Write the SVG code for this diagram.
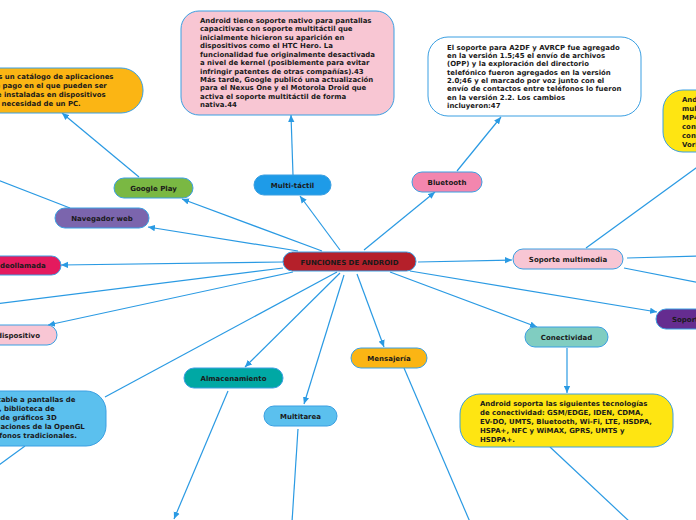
<svg xmlns="http://www.w3.org/2000/svg" width="696" height="520" viewBox="0 0 696 520">
<style>
.c{stroke:#2a9ae3;stroke-width:1.2;fill:none}
.a{marker-end:url(#ah)}
.n{stroke:#3a9fe2;stroke-width:1}
.t{font-family:"DejaVu Sans",Verdana,sans-serif;font-weight:bold;font-size:7px;fill:#1a1a1a;text-anchor:middle}
.b{font-family:"DejaVu Sans",Verdana,sans-serif;font-weight:bold;font-size:6.95px;fill:#1a1a1a}
</style>
<defs>
<marker id="ah" markerUnits="userSpaceOnUse" markerWidth="7" markerHeight="7" viewBox="0 0 10 10" refX="10" refY="5" orient="auto">
<path d="M0,0.5 L10,5 L0,9.5 z" fill="#2a9ae3"/>
</marker>
</defs>
<rect width="696" height="520" fill="#ffffff"/>
<g id="connectors">
<line class="c a" x1="340" y1="250" x2="300" y2="196"/>
<line class="c a" x1="293" y1="175" x2="291" y2="115"/>
<line class="c a" x1="364" y1="250" x2="435" y2="192"/>
<line class="c a" x1="457" y1="171" x2="501" y2="117"/>
<line class="c a" x1="322" y1="251" x2="182" y2="199"/>
<line class="c a" x1="139" y1="177" x2="62" y2="113"/>
<line class="c a" x1="298" y1="251" x2="148" y2="227"/>
<line class="c" x1="70" y1="208" x2="-10" y2="177"/>
<line class="c a" x1="283" y1="262" x2="61" y2="265"/>
<line class="c" x1="283" y1="268" x2="-5" y2="304"/>
<line class="c a" x1="293" y1="272" x2="48" y2="325"/>
<line class="c" x1="337" y1="272" x2="105" y2="397"/>
<line class="c" x1="25" y1="446" x2="-5" y2="468"/>
<line class="c a" x1="340" y1="273" x2="245" y2="367"/>
<line class="c a" x1="228" y1="391" x2="174" y2="519"/>
<line class="c a" x1="344" y1="275" x2="304" y2="404"/>
<line class="c" x1="298" y1="429" x2="292" y2="522"/>
<line class="c a" x1="357" y1="274" x2="384" y2="347"/>
<line class="c" x1="404" y1="368" x2="470" y2="522"/>
<line class="c a" x1="390" y1="272" x2="537" y2="327"/>
<line class="c a" x1="567" y1="348" x2="567" y2="393"/>
<line class="c" x1="550" y1="447" x2="630" y2="522"/>
<line class="c a" x1="410" y1="271" x2="657" y2="312"/>
<line class="c a" x1="418" y1="262" x2="512" y2="260"/>
<line class="c" x1="586" y1="248" x2="700" y2="165"/>
<line class="c" x1="627" y1="258" x2="700" y2="256"/>
<line class="c" x1="624" y1="268" x2="700" y2="283"/>
</g>
<g id="center">
<rect class="n" x="283" y="252" width="133" height="19" rx="9.5" fill="#b5202a"/>
<text class="t" x="349.5" y="264.5">FUNCIONES DE ANDROID</text>
</g>
<g id="multitactil">
<rect class="n" x="254" y="175" width="77" height="20" rx="10" fill="#1e9be8"/>
<text class="t" x="292.5" y="187.5">Multi-táctil</text>
</g>
<g id="bluetooth">
<rect class="n" x="412" y="172" width="70" height="20" rx="10" fill="#f386ae"/>
<text class="t" x="447" y="184.5">Bluetooth</text>
</g>
<g id="googleplay">
<rect class="n" x="114" y="178" width="79" height="20" rx="10" fill="#7ab843"/>
<text class="t" x="153.5" y="190.5">Google Play</text>
</g>
<g id="navegador">
<rect class="n" x="55" y="208" width="94" height="20" rx="10" fill="#7b65ad"/>
<text class="t" x="102" y="220.5">Navegador web</text>
</g>
<g id="videollamada">
<rect class="n" x="-24" y="256" width="85" height="19" rx="9.5" fill="#e41a5e"/>
<text class="t" x="19" y="268">Videollamada</text>
</g>
<g id="diseno">
<rect class="n" x="-60" y="325" width="117" height="20" rx="10" fill="#f8c6d4"/>
<text class="t" x="40" y="337.5" style="text-anchor:end">Diseño de dispositivo</text>
</g>
<g id="soportemultimedia">
<rect class="n" x="513" y="249" width="110" height="20" rx="10" fill="#f8c6d4"/>
<text class="t" x="568" y="261.5">Soporte multimedia</text>
</g>
<g id="soportestreaming">
<rect class="n" x="656" y="309" width="110" height="20" rx="10" fill="#652c90"/>
<text class="t" x="672" y="321.5" style="text-anchor:start">Soporte para streaming</text>
</g>
<g id="conectividad">
<rect class="n" x="525" y="327" width="83" height="20" rx="10" fill="#80cdc1"/>
<text class="t" x="566.5" y="339.5">Conectividad</text>
</g>
<g id="mensajeria">
<rect class="n" x="351" y="348" width="76" height="20" rx="10" fill="#fbb514"/>
<text class="t" x="389" y="360.5">Mensajería</text>
</g>
<g id="almacenamiento">
<rect class="n" x="184" y="368" width="99" height="20" rx="10" fill="#00a8a4"/>
<text class="t" x="233.5" y="380.5">Almacenamiento</text>
</g>
<g id="multitarea">
<rect class="n" x="264" y="406" width="73" height="20" rx="10" fill="#5bc0ee"/>
<text class="t" x="300.5" y="418.5">Multitarea</text>
</g>
<g id="multitactil-desc">
<rect class="n" x="181" y="11" width="213" height="104" rx="18" fill="#f8c6d3"/>
<text class="b" x="200" y="23">
<tspan x="200">Android tiene soporte nativo para pantallas</tspan>
<tspan x="200" dy="8.43">capacitivas con soporte multitáctil que</tspan>
<tspan x="200" dy="8.43">inicialmente hicieron su aparición en</tspan>
<tspan x="200" dy="8.43">dispositivos como el HTC Hero. La</tspan>
<tspan x="200" dy="8.43">funcionalidad fue originalmente desactivada</tspan>
<tspan x="200" dy="8.43">a nivel de kernel (posiblemente para evitar</tspan>
<tspan x="200" dy="8.43">infringir patentes de otras compañías).43</tspan>
<tspan x="200" dy="8.43">Más tarde, Google publicó una actualización</tspan>
<tspan x="200" dy="8.43">para el Nexus One y el Motorola Droid que</tspan>
<tspan x="200" dy="8.43">activa el soporte multitáctil de forma</tspan>
<tspan x="200" dy="8.43">nativa.44</tspan>
</text>
</g>
<g id="bluetooth-desc">
<rect class="n" x="428" y="37" width="213" height="79" rx="20" fill="#ffffff"/>
<text class="b" x="447" y="49.6">
<tspan x="447">El soporte para A2DF y AVRCP fue agregado</tspan>
<tspan x="447" dy="8.34">en la versión 1.5;45 el envío de archivos</tspan>
<tspan x="447" dy="8.34">(OPP) y la exploración del directorio</tspan>
<tspan x="447" dy="8.34">telefónico fueron agregados en la versión</tspan>
<tspan x="447" dy="8.34">2.0;46 y el marcado por voz junto con el</tspan>
<tspan x="447" dy="8.34">envío de contactos entre teléfonos lo fueron</tspan>
<tspan x="447" dy="8.34">en la versión 2.2. Los cambios</tspan>
<tspan x="447" dy="8.34">incluyeron:47</tspan>
</text>
</g>
<g id="googleplay-desc">
<rect class="n" x="-75" y="68" width="218" height="45" rx="22" fill="#fbb514"/>
<text class="b" x="-55" y="79">
<tspan x="-55">Google Play es un catálogo de aplicaciones</tspan>
<tspan x="-55" dy="8.9">gratuitas o de pago en el que pueden ser</tspan>
<tspan x="-55" dy="8.9">descargadas e instaladas en dispositivos</tspan>
<tspan x="-55" dy="8.9">Android sin la necesidad de un PC.</tspan>
</text>
</g>
<g id="multimedia-desc">
<rect class="n" x="663" y="90" width="200" height="62" rx="20" fill="#fee512"/>
<text class="b" x="682" y="102.3">
<tspan x="682">Android soporta los siguientes formatos</tspan>
<tspan x="682" dy="8.9">multimedia: WebM, H.263, H.264 (en 3GP o</tspan>
<tspan x="682" dy="8.9">MP4), MPEG-4 SP, AMR, AMR-WB (en un</tspan>
<tspan x="682" dy="8.9">contenedor 3GP), AAC, HE-AAC (en</tspan>
<tspan x="682" dy="8.9">contenedores MP4 o 3GP), MP3, MIDI, Ogg</tspan>
<tspan x="682" dy="8.9">Vorbis, WAV, JPEG, PNG, GIF y BMP.</tspan>
</text>
</g>
<g id="diseno-desc">
<rect class="n" x="-105" y="391" width="211" height="55" rx="20" fill="#5bc0ee"/>
<text class="b" x="-90" y="402.3">
<tspan x="-90">La plataforma es adaptable a pantallas de</tspan>
<tspan x="-90" dy="8.9">mayor resolución, VGA, biblioteca de</tspan>
<tspan x="-90" dy="8.9">gráficos 2D, biblioteca de gráficos 3D</tspan>
<tspan x="-90" dy="8.9">basada en las especificaciones de la OpenGL</tspan>
<tspan x="-90" dy="8.9">ES 2.0 y diseño de teléfonos tradicionales.</tspan>
</text>
</g>
<g id="conectividad-desc">
<rect class="n" x="460" y="394" width="213" height="53" rx="20" fill="#fee512"/>
<text class="b" x="480" y="406.3">
<tspan x="480">Android soporta las siguientes tecnologías</tspan>
<tspan x="480" dy="8.8">de conectividad: GSM/EDGE, IDEN, CDMA,</tspan>
<tspan x="480" dy="8.8">EV-DO, UMTS, Bluetooth, Wi-Fi, LTE, HSDPA,</tspan>
<tspan x="480" dy="8.8">HSPA+, NFC y WiMAX, GPRS, UMTS y</tspan>
<tspan x="480" dy="8.8">HSDPA+.</tspan>
</text>
</g>
</svg>
